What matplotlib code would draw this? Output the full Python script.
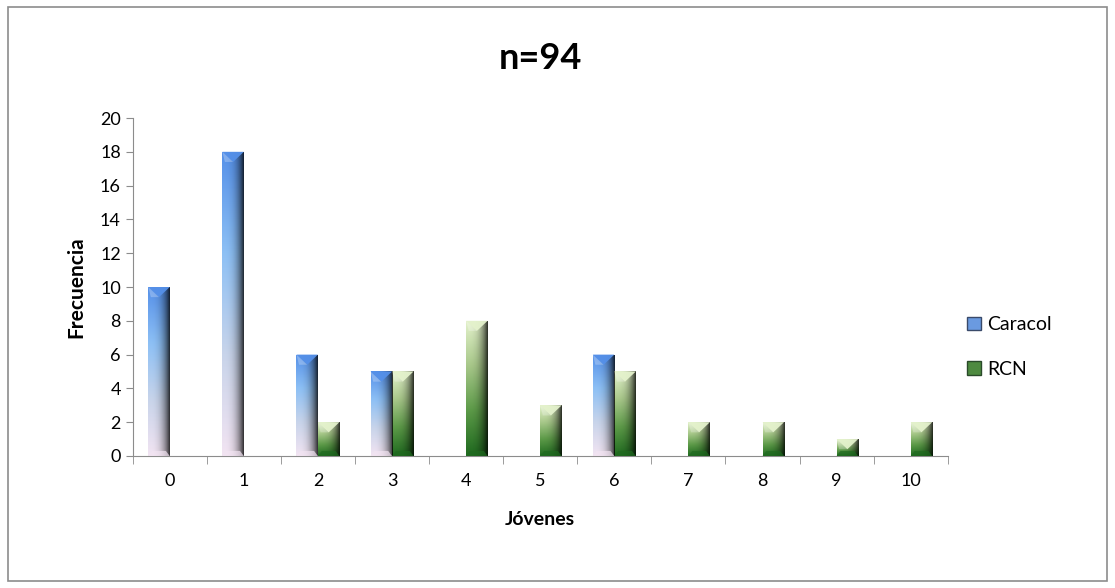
import matplotlib.pyplot as plt
import numpy as np
from matplotlib.colors import LinearSegmentedColormap
from matplotlib.patches import Rectangle, Polygon

plt.rcParams['font.family'] = ['Lato', 'DejaVu Sans']

jovenes = [0, 1, 2, 3, 4, 5, 6, 7, 8, 9, 10]
caracol = [10, 18, 6, 5, 0, 0, 6, 0, 0, 0, 0]
rcn = [0, 0, 2, 5, 8, 3, 5, 2, 2, 1, 2]

# gradients top -> bottom
cmap_car = LinearSegmentedColormap.from_list('car', ['#5590e8', '#8dc0f5', '#c8d4ea', '#f2e4f2'])
cmap_rcn = LinearSegmentedColormap.from_list('rcn', ['#e4f2cc', '#a8c88a', '#5c9a48', '#1f6a1f'])

fig = plt.figure(figsize=(11.15, 5.88), dpi=100)
fig.patches.append(Rectangle((0.007, 0.012), 0.986, 0.976, transform=fig.transFigure,
                             fill=False, edgecolor='#8c8c8c', lw=1.2))
ax = fig.add_axes([0.119, 0.2245, 0.731, 0.5748])

x = np.arange(len(jovenes))
w = 0.29


def bevel_bar(xc, h, cmap):
    if h <= 0:
        return
    x0, x1 = xc - w / 2, xc + w / 2
    rect = Rectangle((x0, 0), w, h, facecolor='none', edgecolor='none')
    ax.add_patch(rect)
    grad = np.linspace(0, 1, 256).reshape(-1, 1)
    im = ax.imshow(grad, cmap=cmap, extent=(x0, x1, 0, h), aspect='auto',
                   origin='upper', zorder=2)
    im.set_clip_path(rect)
    # horizontal shading: darker on right side
    shade = np.linspace(0, 1, 64).reshape(1, -1) ** 3
    sh = ax.imshow(shade, cmap=LinearSegmentedColormap.from_list('s', [(0, 0, 0, 0), (0, 0, 0, 0.8)]),
                   extent=(x0, x1, 0, h), aspect='auto', zorder=3)
    sh.set_clip_path(rect)
    # bevel at top and bottom
    bh = min(0.6, h * 0.6)
    ax.add_patch(Polygon([(x0, h), (x1, h), (xc, h - bh)], closed=True,
                         facecolor=cmap(0.0), edgecolor='none', alpha=0.95, zorder=4))
    ax.add_patch(Polygon([(x0, h), (xc, h - bh), (x0 + w * 0.12, h - bh)], closed=True,
                         facecolor='white', edgecolor='none', alpha=0.25, zorder=4))
    ax.add_patch(Polygon([(x0, 0), (x1, 0), (x1 - w * 0.18, 0.3), (x0 + w * 0.18, 0.3)],
                         closed=True, facecolor=cmap(1.0), edgecolor='none', alpha=0.7, zorder=4))


for i in range(len(jovenes)):
    bevel_bar(x[i] - w / 2, caracol[i], cmap_car)
    bevel_bar(x[i] + w / 2, rcn[i], cmap_rcn)

ax.set_xlim(-0.5, len(jovenes) - 0.5)
ax.set_ylim(0, 20)
ax.set_yticks(range(0, 21, 2))
ax.set_xticks(x)
ax.set_xticklabels([str(j) for j in jovenes])
ax.set_xticks(np.arange(-0.5, len(jovenes), 1), minor=True)
ax.tick_params(axis='x', which='major', length=0, pad=12, labelsize=13)
ax.tick_params(axis='x', which='minor', length=6, color='#8c8c8c', direction='out')
ax.tick_params(axis='y', length=5, color='#8c8c8c', labelsize=13)
for s in ['top', 'right']:
    ax.spines[s].set_visible(False)
for s in ['left', 'bottom']:
    ax.spines[s].set_color('#8c8c8c')

ax.set_xlabel('Jóvenes', fontsize=14, fontweight='bold', labelpad=16)
ax.set_ylabel('Frecuencia', fontsize=15, fontweight='bold', labelpad=10)
ax.set_title('n=94', fontsize=26, fontweight='bold', pad=35)

h1 = Rectangle((0, 0), 1, 1, facecolor='#6a9ae0', edgecolor='#3a4a6a')
h2 = Rectangle((0, 0), 1, 1, facecolor='#4e8a40', edgecolor='#2a4a2a')
fig.legend([h1, h2], ['Caracol', 'RCN'], loc='center left', bbox_to_anchor=(0.852, 0.41),
           frameon=False, fontsize=14, handlelength=0.7, handleheight=0.7,
           handletextpad=0.3, labelspacing=1.4)

fig.savefig('out.png', dpi=100)
